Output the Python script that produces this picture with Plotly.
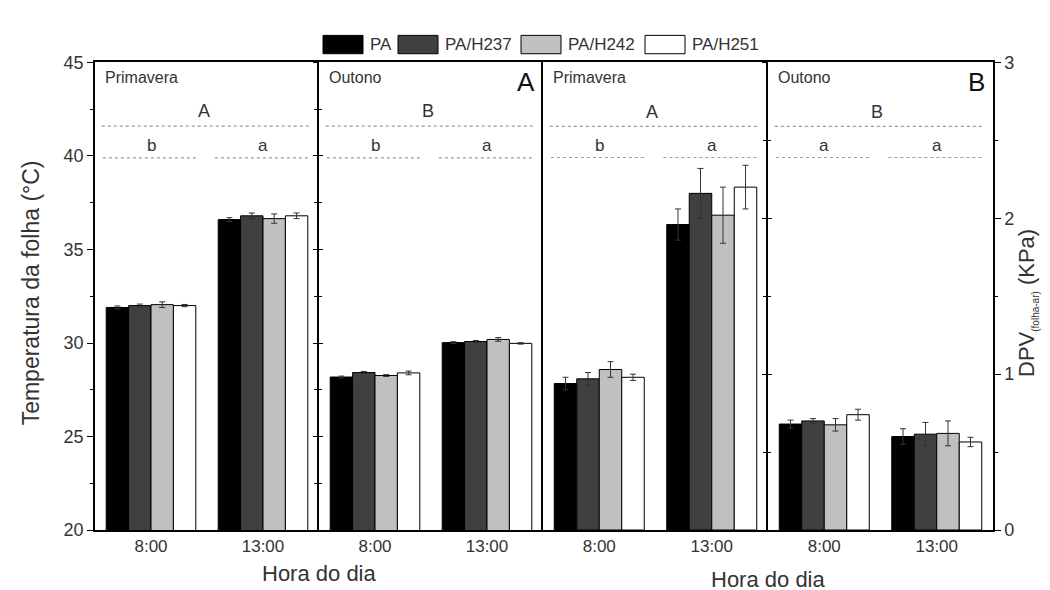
import plotly.graph_objects as go

# ---------------- data ----------------
hours = ["8:00", "13:00"]
series = ["PA", "PA/H237", "PA/H242", "PA/H251"]
colors = ["#000000", "#404040", "#c0c0c0", "#ffffff"]
seasons = ["Primavera", "Outono"]
panel_labels = ["A", "B"]

# leaf temperature (°C), per series [PA, PA/H237, PA/H242, PA/H251]
temp_prim_8 = [31.9, 32.0, 32.05, 32.0]
temp_prim_13 = [36.6, 36.8, 36.65, 36.8]
temp_out_8 = [28.18, 28.42, 28.26, 28.4]
temp_out_13 = [30.02, 30.08, 30.19, 29.98]
temp_prim_8_err = [0.08, 0.08, 0.15, 0.06]
temp_prim_13_err = [0.1, 0.15, 0.25, 0.15]
temp_out_8_err = [0.05, 0.06, 0.05, 0.1]
temp_out_13_err = [0.05, 0.05, 0.1, 0.04]

# DPV leaf-air (KPa)
dpv_prim_8 = [0.94, 0.97, 1.03, 0.98]
dpv_prim_13 = [1.96, 2.16, 2.02, 2.20]
dpv_out_8 = [0.68, 0.70, 0.675, 0.74]
dpv_out_13 = [0.60, 0.615, 0.62, 0.565]
dpv_prim_8_err = [0.04, 0.04, 0.05, 0.02]
dpv_prim_13_err = [0.10, 0.16, 0.18, 0.14]
dpv_out_8_err = [0.025, 0.015, 0.04, 0.035]
dpv_out_13_err = [0.05, 0.075, 0.08, 0.03]

# significance letters
temp_season_letters = ["A", "B"]
temp_hour_letters_prim = ["b", "a"]
temp_hour_letters_out = ["b", "a"]
dpv_season_letters = ["A", "B"]
dpv_hour_letters_prim = ["b", "a"]
dpv_hour_letters_out = ["a", "a"]

temp_ticks = [20, 25, 30, 35, 40, 45]
dpv_ticks = [0, 1, 2, 3]

# ---------------- layout helpers ----------------
W, H = 1050, 590
FONT = "Liberation Sans, Arial, sans-serif"
TXT = "#333333"


def fx(p):
    return p / W


def fy(p):
    return 1 - p / H


ydom = [fy(530), fy(46)]
xdoms = [[fx(87), fx(311)], [fx(311), fx(535)], [fx(535), fx(760)], [fx(760), fx(985)]]

panels = [
    ("x", "y", [temp_prim_8, temp_prim_13], [temp_prim_8_err, temp_prim_13_err]),
    ("x2", "y", [temp_out_8, temp_out_13], [temp_out_8_err, temp_out_13_err]),
    ("x3", "y4", [dpv_prim_8, dpv_prim_13], [dpv_prim_8_err, dpv_prim_13_err]),
    ("x4", "y4", [dpv_out_8, dpv_out_13], [dpv_out_8_err, dpv_out_13_err]),
]

fig = go.Figure()
for xa, ya, vals, errs in panels:
    for i, name in enumerate(series):
        fig.add_trace(go.Bar(
            x=hours,
            y=[vals[0][i], vals[1][i]],
            error_y=dict(type="data", array=[errs[0][i], errs[1][i]],
                         color="#333333", thickness=1, width=3),
            name=name,
            marker=dict(color=colors[i], line=dict(color="#000000", width=1)),
            xaxis=xa, yaxis=ya, showlegend=False,
        ))

# empty helper traces so the tick-only overlay axes get drawn
for xa, ya in [("x2", "y2"), ("x2", "y3"), ("x4", "y5"), ("x4", "y6"), ("x4", "y7")]:
    fig.add_trace(go.Scatter(x=[hours[0]], y=[None], mode="markers", xaxis=xa, yaxis=ya,
                             showlegend=False, hoverinfo="skip"))

lay = dict(
    width=W, height=H, autosize=False,
    margin=dict(l=0, r=0, t=0, b=0),
    plot_bgcolor="white", paper_bgcolor="white",
    barmode="group", bargap=0.2, bargroupgap=0,
    font=dict(family=FONT, color=TXT, size=17),
)

for k, dom in enumerate(xdoms):
    key = "xaxis" if k == 0 else f"xaxis{k + 1}"
    lay[key] = dict(
        domain=dom, anchor="y" if k < 2 else "y4",
        type="category", range=[-0.5, 1.5],
        showline=True, mirror=True, linecolor="#000", linewidth=1.5,
        ticks="", showgrid=False, zeroline=False,
        tickfont=dict(size=17, color=TXT, family=FONT),
        fixedrange=True,
    )

axline = dict(showline=True, linecolor="#000", linewidth=1.5, showgrid=False, zeroline=False)
minor_t = dict(ticklen=3, tickwidth=1, tickcolor="#000", showgrid=False)

lay["yaxis"] = dict(domain=ydom, range=[20, 45], anchor="x", side="left",
                    ticks="outside", ticklen=6, tickwidth=1.2, tickcolor="#000",
                    tickvals=temp_ticks, tickfont=dict(size=18, color=TXT),
                    minor=dict(dtick=2.5, tick0=20, ticks="outside", **minor_t), **axline)
lay["yaxis2"] = dict(overlaying="y", range=[20, 45], anchor="x2", side="left",
                     ticks="outside", ticklen=4, tickwidth=1.2, tickcolor="#000",
                     tickvals=temp_ticks, showticklabels=False,
                     minor=dict(dtick=2.5, tick0=20, ticks="outside", **minor_t), **axline)
lay["yaxis3"] = dict(overlaying="y", range=[20, 45], anchor="x2", side="left",
                     ticks="inside", ticklen=4, tickwidth=1.2, tickcolor="#000",
                     tickvals=temp_ticks, showticklabels=False,
                     minor=dict(dtick=2.5, tick0=20, ticks="inside", **minor_t), **axline)
lay["yaxis4"] = dict(domain=ydom, range=[0, 3], anchor="x3", side="left",
                     ticks="", showticklabels=False, **axline)
lay["yaxis5"] = dict(overlaying="y4", range=[0, 3], anchor="x4", side="left",
                     ticks="outside", ticklen=4, tickwidth=1.2, tickcolor="#000",
                     tickvals=dpv_ticks, showticklabels=False,
                     minor=dict(dtick=0.5, tick0=0, ticks="outside", **minor_t), **axline)
lay["yaxis6"] = dict(overlaying="y4", range=[0, 3], anchor="x4", side="left",
                     ticks="inside", ticklen=4, tickwidth=1.2, tickcolor="#000",
                     tickvals=dpv_ticks, showticklabels=False,
                     minor=dict(dtick=0.5, tick0=0, ticks="inside", **minor_t), **axline)
lay["yaxis7"] = dict(overlaying="y4", range=[0, 3], anchor="x4", side="right",
                     ticks="outside", ticklen=6, tickwidth=1.2, tickcolor="#000",
                     tickvals=dpv_ticks, tickfont=dict(size=18, color=TXT),
                     minor=dict(dtick=0.5, tick0=0, ticks="outside", **minor_t), **axline)
fig.update_layout(**lay)

# ---------------- annotations & significance lines ----------------
ann = []
shapes = []
C = dict(xanchor="center", yanchor="middle", showarrow=False)

sig = [
    ("x", "y", temp_season_letters[0], temp_hour_letters_prim, (42.4, 41.6, 40.55, 39.9)),
    ("x2", "y", temp_season_letters[1], temp_hour_letters_out, (42.4, 41.6, 40.55, 39.9)),
    ("x3", "y4", dpv_season_letters[0], dpv_hour_letters_prim, (2.68, 2.59, 2.47, 2.39)),
    ("x4", "y4", dpv_season_letters[1], dpv_hour_letters_out, (2.68, 2.59, 2.47, 2.39)),
]
dash = dict(color="#9a9a9a", width=1.2, dash="dot")
for xa, ya, up, lows, (yU, yUL, yL, yLL) in sig:
    ann.append(dict(x=0.47, y=yU, xref=xa, yref=ya, text=up,
                    font=dict(size=18, color=TXT), **C))
    shapes.append(dict(type="line", xref=xa, yref=ya, x0=-0.44, x1=1.42, y0=yUL, y1=yUL, line=dash))
    for j, lt in enumerate(lows):
        ann.append(dict(x=j, y=yL, xref=xa, yref=ya, text=lt,
                        font=dict(size=17, color=TXT), **C))
        shapes.append(dict(type="line", xref=xa, yref=ya, x0=j - 0.43, x1=j + 0.42,
                           y0=yLL, y1=yLL, line=dash))

# season labels and panel letters
for k, xa in enumerate(["x", "x2", "x3", "x4"]):
    ann.append(dict(x=0.035, y=0.968, xref=f"{xa} domain", yref="y domain",
                    text=seasons[k % 2], showarrow=False, xanchor="left", yanchor="middle",
                    font=dict(size=16, color=TXT)))
for k, xa in enumerate(["x2", "x4"]):
    ann.append(dict(x=0.975, y=0.958, xref=f"{xa} domain", yref="y domain",
                    text=panel_labels[k], showarrow=False, xanchor="right", yanchor="middle",
                    font=dict(size=26, color="#111")))

# axis titles
ann.append(dict(x=fx(23), y=fy(285), xref="paper", yref="paper", text="Temperatura da folha (°C)",
                textangle=-90, font=dict(size=23, color=TXT), **C))
ann.append(dict(x=fx(1019), y=fy(295), xref="paper", yref="paper",
                text="DPV<sub><span style='font-size:10px'>(folha-ar)</span></sub> (KPa)",
                textangle=-90, font=dict(size=22, color=TXT), **C))
ann.append(dict(x=fx(311), y=fy(575), xref="paper", yref="paper", text="Hora do dia",
                font=dict(size=22, color=TXT), **C))
ann.append(dict(x=fx(760), y=fy(581), xref="paper", yref="paper", text="Hora do dia",
                font=dict(size=22, color=TXT), **C))

# custom legend (wide swatches)
leg_box_x = [315, 390, 513, 637]
for i, name in enumerate(series):
    shapes.append(dict(type="rect", xref="paper", yref="paper",
                       x0=fx(leg_box_x[i]), x1=fx(leg_box_x[i] + 40), y0=fy(37), y1=fy(18),
                       fillcolor=colors[i], line=dict(color="#000", width=1)))
    ann.append(dict(x=fx(leg_box_x[i] + 45), y=fy(27.5), xref="paper", yref="paper",
                    text=name, showarrow=False, xanchor="left", yanchor="middle",
                    font=dict(size=17, color=TXT)))

fig.update_layout(annotations=ann, shapes=shapes)
fig.write_html("out.html")
